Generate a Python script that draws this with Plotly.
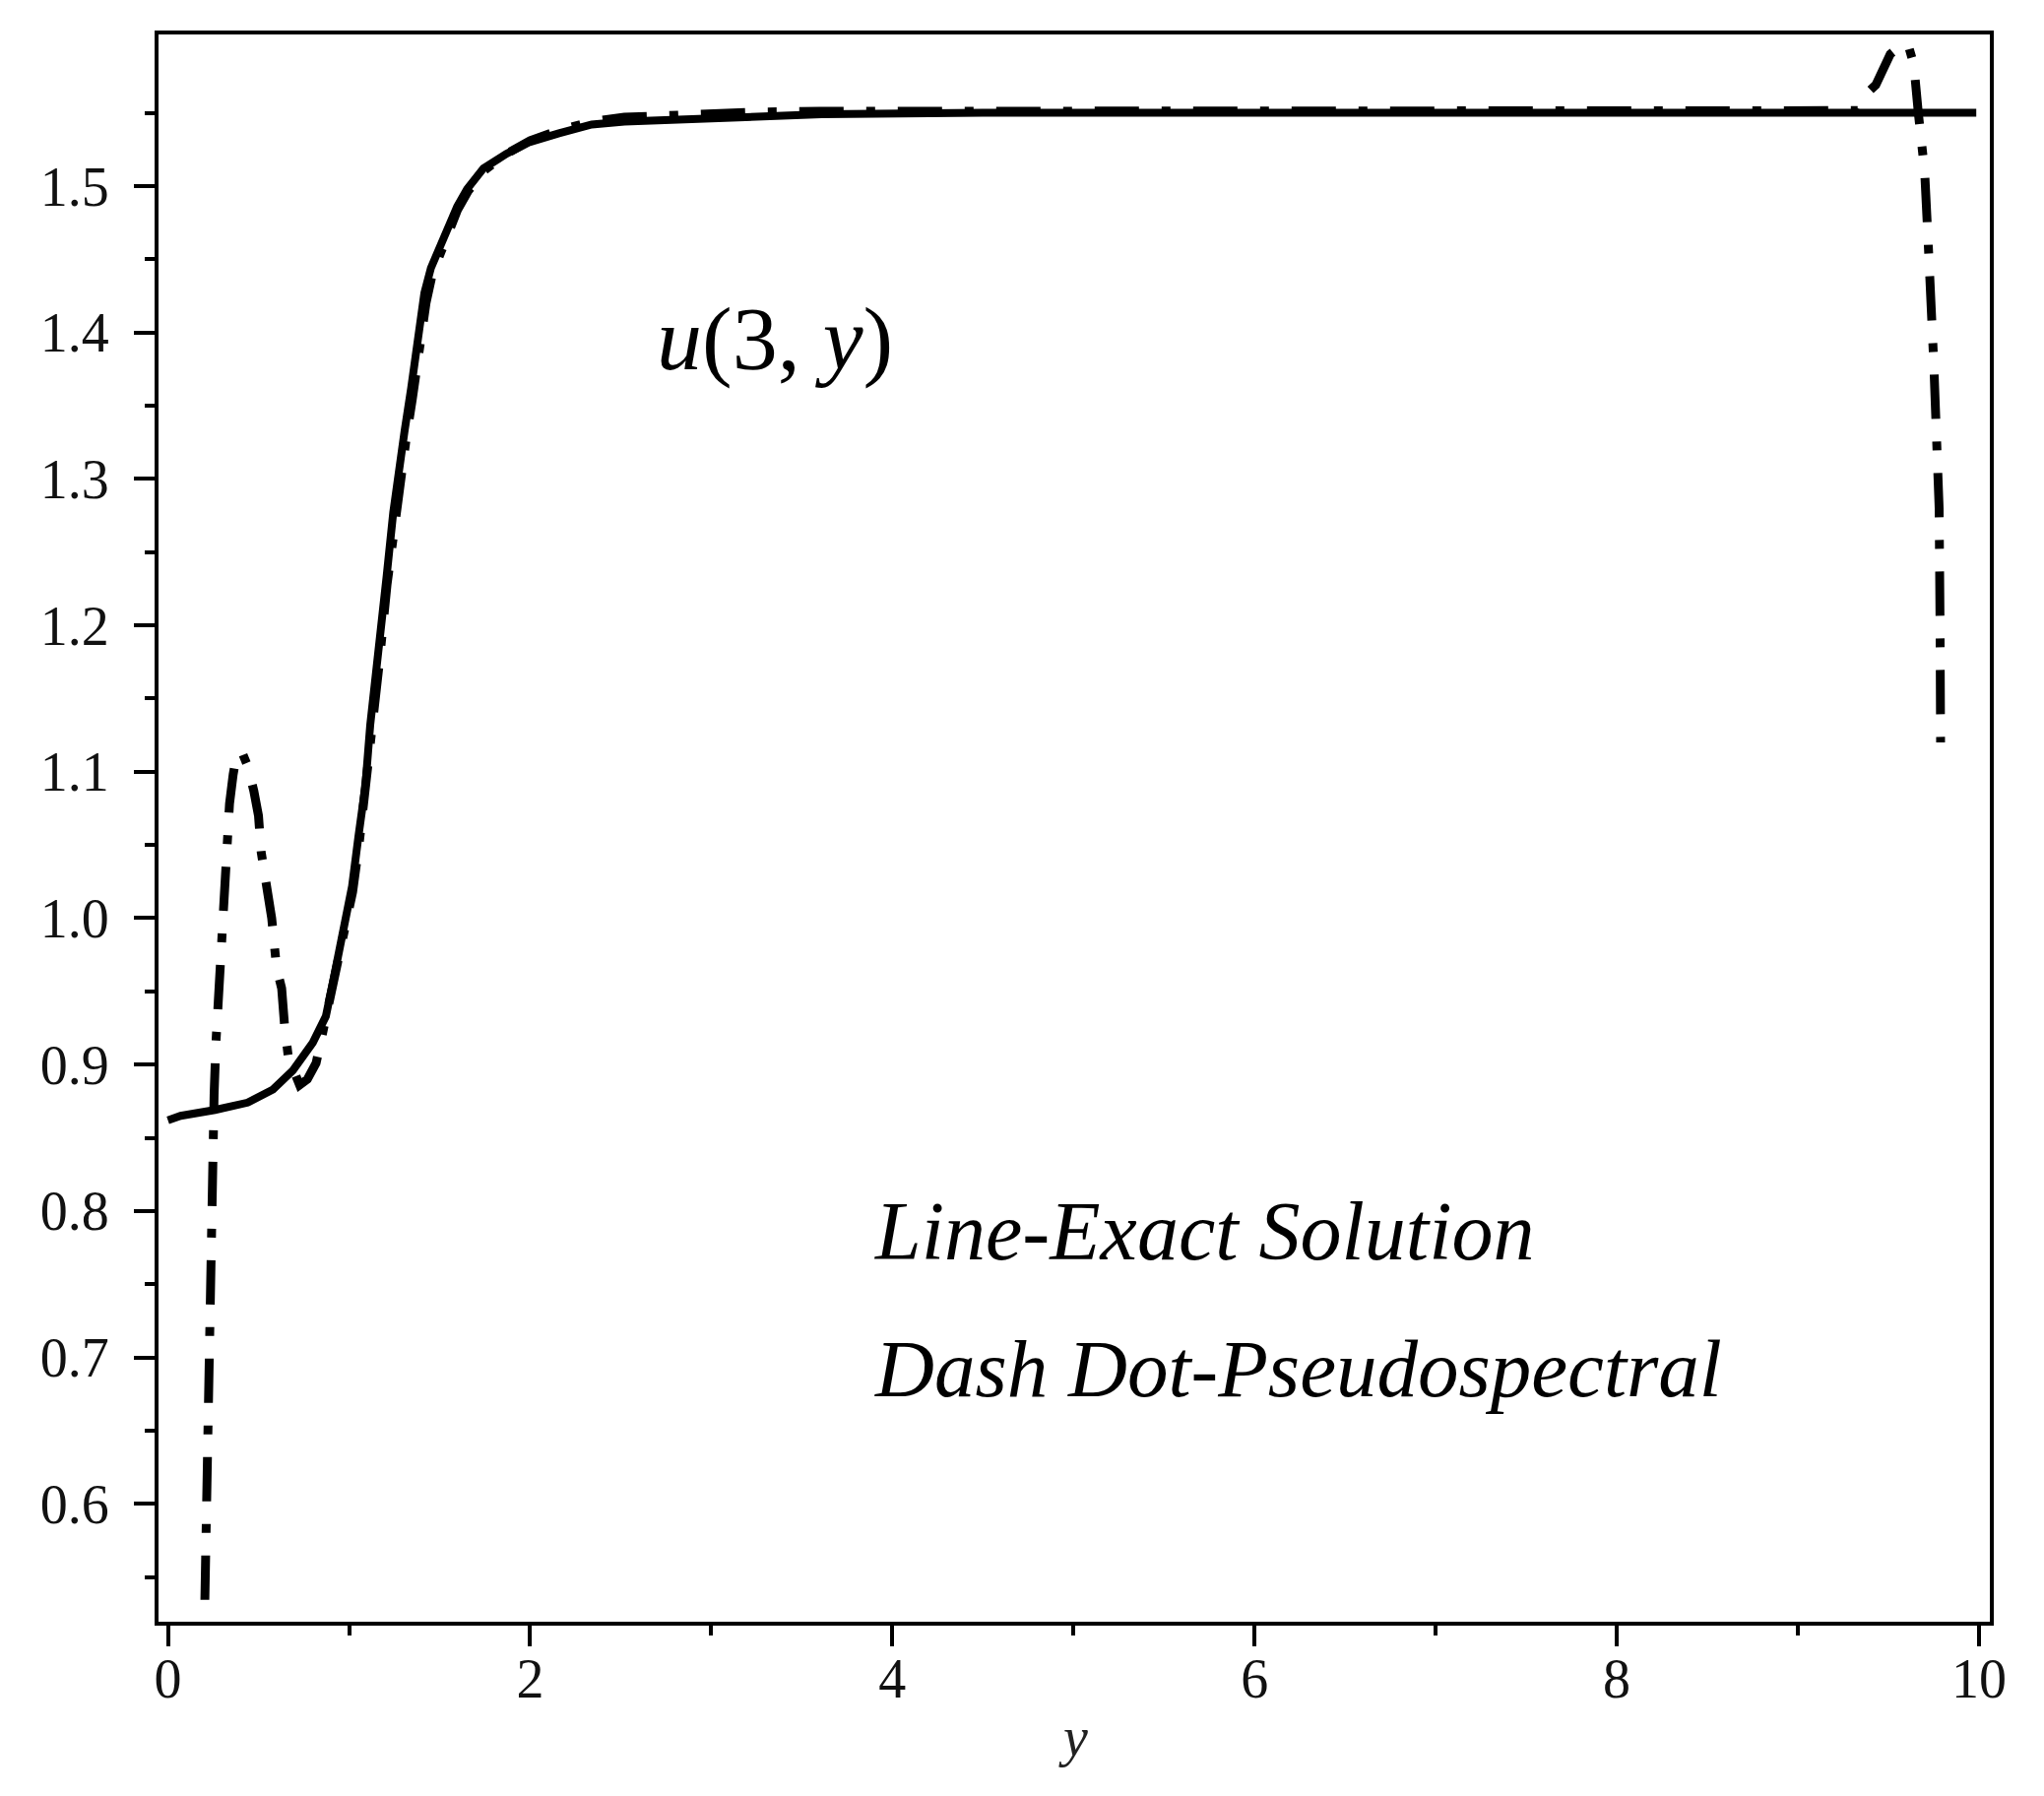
import plotly.graph_objects as go

# exact solution u(3, y)
y_exact = [0.0, 0.07, 0.26, 0.44, 0.58, 0.69, 0.80, 0.872, 0.909, 0.943, 0.981, 1.017,
           1.052, 1.09, 1.117, 1.162, 1.208, 1.244, 1.271, 1.307, 1.343, 1.380, 1.416,
           1.452, 1.497, 1.543, 1.597, 1.652, 1.742, 1.869, 1.996, 2.159, 2.34, 2.52,
           2.884, 3.246, 3.609, 4.5, 6.0, 8.0, 9.985]
u_exact = [0.862, 0.865, 0.869, 0.874, 0.883, 0.896, 0.915, 0.933, 0.955, 0.977, 1.0, 1.022,
           1.056, 1.09, 1.132, 1.178, 1.234, 1.277, 1.305, 1.333, 1.362, 1.398, 1.427,
           1.444, 1.458, 1.472, 1.486, 1.498, 1.512, 1.522, 1.530, 1.536, 1.542, 1.544,
           1.546, 1.548, 1.549, 1.55, 1.55, 1.55, 1.55]

# pseudospectral approximation
y_ps = [0.184, 0.2, 0.215, 0.228, 0.245, 0.255, 0.265, 0.28, 0.29, 0.31, 0.32, 0.34,
        0.36, 0.38, 0.41, 0.44, 0.474, 0.5, 0.515, 0.543, 0.573, 0.60, 0.628, 0.645,
        0.665, 0.695, 0.727, 0.77, 0.818, 0.86, 0.9,
        0.94, 0.98, 1.02, 1.055, 1.09, 1.12, 1.165, 1.21, 1.25, 1.28, 1.315, 1.35,
        1.39, 1.425, 1.46, 1.505, 1.55, 1.60, 1.66, 1.75, 1.87, 2.0, 2.16, 2.34, 2.52,
        2.88, 3.25, 3.6, 4.5, 6.0, 8.0, 9.33,
        9.37, 9.43, 9.51, 9.58, 9.61, 9.64, 9.665, 9.70, 9.72, 9.735, 9.75, 9.765,
        9.78, 9.785, 9.788]
u_ps = [0.40, 0.53, 0.65, 0.75, 0.84, 0.88, 0.915, 0.95, 0.985, 1.017, 1.049, 1.078,
        1.098, 1.112, 1.113, 1.104, 1.087, 1.07, 1.045, 1.022, 1.0, 0.966, 0.952, 0.925,
        0.905, 0.896, 0.886, 0.89, 0.901, 0.925, 0.948,
        0.972, 0.995, 1.018, 1.05, 1.085, 1.125, 1.172, 1.228, 1.27, 1.298, 1.327, 1.355,
        1.392, 1.42, 1.44, 1.455, 1.468, 1.484, 1.497, 1.511, 1.522, 1.531, 1.538, 1.544,
        1.547, 1.549, 1.5505, 1.551, 1.551, 1.5515, 1.5515, 1.5515,
        1.562, 1.569, 1.59, 1.597, 1.596, 1.583, 1.55, 1.51, 1.46, 1.43, 1.38, 1.33,
        1.28, 1.2, 1.12]

x_ticks = [0, 2, 4, 6, 8, 10]
x_minor = [1, 3, 5, 7, 9]
y_ticks = [0.6, 0.7, 0.8, 0.9, 1.0, 1.1, 1.2, 1.3, 1.4, 1.5]
y_ticktext = ['0.6', '0.7', '0.8', '0.9', '1.0', '1.1', '1.2', '1.3', '1.4', '1.5']
y_minor = [0.55, 0.65, 0.75, 0.85, 0.95, 1.05, 1.15, 1.25, 1.35, 1.45, 1.55]

fig = go.Figure()
fig.add_trace(go.Scatter(x=y_exact, y=u_exact, mode='lines', name='Exact',
                         line=dict(color='black', width=8)))
fig.add_trace(go.Scatter(x=y_ps, y=u_ps, mode='lines', name='Pseudospectral',
                         line=dict(color='black', width=9, dash='45px,23px,9px,23px')))

tick_font = dict(family='Liberation Serif', size=56, color='#111')
axis_common = dict(showline=True, linecolor='black', linewidth=4, mirror=True,
                   showgrid=False, zeroline=False, ticks='outside', ticklen=21,
                   tickwidth=4, tickcolor='black', tickfont=tick_font)

fig.update_xaxes(range=[-0.052, 10.06], tickmode='array', tickvals=x_ticks,
                 ticklabelstandoff=-15,
                 minor=dict(tickmode='array', tickvals=x_minor, ticks='outside',
                            ticklen=10, tickwidth=4, tickcolor='black'),
                 **axis_common)
fig.update_yaxes(range=[0.5195, 1.6035], tickmode='array', tickvals=y_ticks,
                 ticktext=y_ticktext, ticklabelstandoff=14,
                 minor=dict(tickmode='array', tickvals=y_minor, ticks='outside',
                            ticklen=10, tickwidth=4, tickcolor='black'),
                 **axis_common)

# labels
fig.add_annotation(x=3.35, y=1.396, xref='x', yref='y', showarrow=False,
                   text='<i>u</i>(3, <i>y</i>)', xanchor='center', yanchor='middle',
                   font=dict(family='Liberation Serif', size=92, color='black'))
fig.add_annotation(x=3.89, y=0.786, xref='x', yref='y', showarrow=False,
                   text='<i>Line-Exact Solution</i>', xanchor='left', yanchor='middle',
                   font=dict(family='Liberation Serif', size=84, color='black'))
fig.add_annotation(x=3.89, y=0.692, xref='x', yref='y', showarrow=False,
                   text='<i>Dash Dot-Pseudospectral</i>', xanchor='left', yanchor='middle',
                   font=dict(family='Liberation Serif', size=83, color='black'))
fig.add_annotation(x=5, y=-0.0727, xref='x', yref='paper', showarrow=False,
                   text='<i>y</i>', xanchor='center', yanchor='middle',
                   font=dict(family='Liberation Serif', size=56, color='#222'))

fig.update_layout(width=2076, height=1824, showlegend=False,
                  paper_bgcolor='white', plot_bgcolor='white',
                  margin=dict(l=153, r=63, t=27, b=185))

fig.write_html("out.html")
